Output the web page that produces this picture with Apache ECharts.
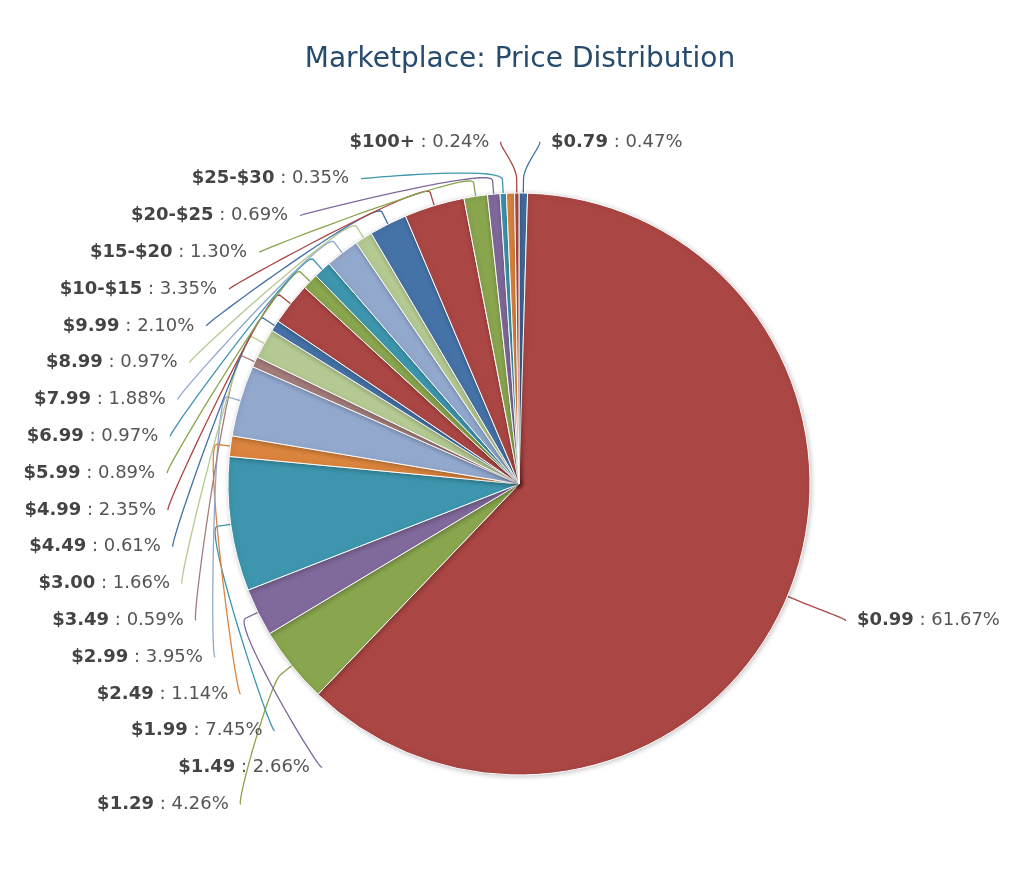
<!DOCTYPE html>
<html>
<head>
<meta charset="utf-8">
<title>Marketplace: Price Distribution</title>
<script src="https://cdn.jsdelivr.net/npm/echarts@6/dist/echarts.min.js"></script>
<style>
html, body { margin: 0; padding: 0; background: #fff; }
#divChart { width: 1024px; height: 877px; }
</style>
</head>
<body>
<div id="divChart"></div>
<script>
/** 价格区间（空名 = 图上无标签的细片） */
var priceNames = ['$0.79', '$0.99', '$1.29', '$1.49', '$1.99', '$2.49', '$2.99', '$3.49', '$3.00',
	'$4.49', '$4.99', '$5.99', '$6.99', '$7.99', '$8.99', '$9.99', '$10-$15', '$15-$20',
	'$20-$25', '$25-$30', '', '$100+'];
/** 占比 % */
var sharePct = [0.47, 61.67, 4.26, 2.66, 7.45, 1.14, 3.95, 0.59, 1.66,
	0.61, 2.35, 0.89, 0.97, 1.88, 0.97, 2.10, 3.35, 1.30,
	0.69, 0.35, 0.45, 0.24];
/** 每片颜色 */
var sliceColors = ['#4572A7', '#AA4643', '#89A54E', '#80699B', '#3D96AE', '#DB843D', '#92A8CD', '#A47D7C', '#B5CA92',
	'#4572A7', '#AA4643', '#89A54E', '#3D96AE', '#92A8CD', '#B5CA92', '#4572A7', '#AA4643', '#89A54E',
	'#80699B', '#3D96AE', '#DB843D', '#AA4643'];

var cx = 519, cy = 484, pieR = 291;
var labelR = 337, breakOff = 14;
var slotTop = 142, slotStep = 36.8, slotCount = 19;

/**
 * 计算标签位置和引导线（仿 highcharts 的槽位排布）
 */
var labelInfo = {};
function calcLabels() {
	var total = 0, acc = 0, i;
	for (i = 0; i < sharePct.length; i++) total += sharePct[i];
	var sides = { '-1': [], '1': [] };
	for (i = 0; i < sharePct.length; i++) {
		var mid = (acc + sharePct[i] / 2) / total * Math.PI * 2;
		acc += sharePct[i];
		if (!priceNames[i]) continue;
		var side = Math.sin(mid) < 0 ? -1 : 1;
		sides[side].push({ idx: i, mid: mid, side: side, natY: cy - labelR * Math.cos(mid) });
	}
	for (var s in sides) {
		var list = sides[s];
		list.sort(function (a, b) { return a.natY - b.natY; });
		var used = [];
		for (i = 0; i < list.length; i++) {
			var slot;
			if (list.length >= slotCount) {
				slot = i;
			} else {
				slot = Math.round((list[i].natY - slotTop) / slotStep);
				slot = Math.max(0, Math.min(slotCount - 1, slot));
				while (used[slot]) slot++;
			}
			used[slot] = true;
			var it = list[i];
			var y = slotTop + slot * slotStep;
			var dy = (i === 0 || i === list.length - 1) ? it.natY - cy : y - cy;
			var xc = cx + it.side * Math.sqrt(Math.max(0, labelR * labelR - dy * dy));
			var sn = Math.sin(it.mid), cs = Math.cos(it.mid);
			var E = [cx + pieR * sn, cy - pieR * cs];
			var B = [cx + (pieR + breakOff) * sn, cy - (pieR + breakOff) * cs];
			var C2 = [cx + (pieR + 2 * breakOff) * sn, cy - (pieR + 2 * breakOff) * cs];
			var L = [xc + it.side * 15, y];
			var C1 = [xc + it.side * 20, y];
			var pts = [E, B];
			for (var k = 19; k >= 0; k--) {
				var t = k / 20, u = 1 - t;
				pts.push([
					u * u * u * L[0] + 3 * u * u * t * C1[0] + 3 * u * t * t * C2[0] + t * t * t * B[0],
					u * u * u * L[1] + 3 * u * u * t * C1[1] + 3 * u * t * t * C2[1] + t * t * t * B[1]
				]);
			}
			labelInfo[it.idx] = {
				x: xc + it.side * 27,
				y: y,
				align: it.side < 0 ? 'right' : 'left',
				points: pts
			};
		}
	}
}
calcLabels();

var seriesData = [];
for (var i = 0; i < sharePct.length; i++) {
	var d = { name: priceNames[i], value: sharePct[i], itemStyle: { color: sliceColors[i] } };
	if (!priceNames[i]) {
		d.label = { show: false };
		d.labelLine = { show: false };
	}
	seriesData.push(d);
}

var option = {
	backgroundColor: '#ffffff',
	animation: false,
	title: {
		text: 'Marketplace: Price Distribution',
		left: 520,
		top: 44,
		textAlign: 'center',
		padding: 0,
		textStyle: {
			fontFamily: 'DejaVu Sans',
			fontSize: 28,
			fontWeight: 'normal',
			color: '#274b6d',
			lineHeight: 32
		}
	},
	series: [{
		type: 'pie',
		center: [cx, cy],
		radius: pieR,
		startAngle: 90,
		clockwise: true,
		avoidLabelOverlap: false,
		minShowLabelAngle: 0,
		data: seriesData,
		itemStyle: {
			borderColor: '#ffffff',
			borderWidth: 1,
			shadowBlur: 5,
			shadowOffsetX: 1,
			shadowOffsetY: 1,
			shadowColor: 'rgba(0,0,0,0.22)'
		},
		label: {
			position: 'outside',
			alignTo: 'none',
			formatter: function (p) {
				return '{n|' + p.name + '}{v| : ' + p.value.toFixed(2) + '%}';
			},
			rich: {
				n: { fontFamily: 'DejaVu Sans', fontSize: 18, fontWeight: 'bold', color: '#444444' },
				v: { fontFamily: 'DejaVu Sans', fontSize: 18, color: '#555555' }
			}
		},
		labelLine: {
			show: true,
			smooth: false,
			lineStyle: { width: 1.3 }
		},
		labelLayout: function (params) {
			var info = labelInfo[params.dataIndex];
			if (!info) return {};
			return {
				x: info.x,
				y: info.y,
				align: info.align,
				verticalAlign: 'middle',
				labelLinePoints: info.points
			};
		},
		emphasis: { disabled: true }
	}]
};

var divChart = echarts.init(document.getElementById('divChart'));
divChart.setOption(option);
</script>
</body>
</html>
